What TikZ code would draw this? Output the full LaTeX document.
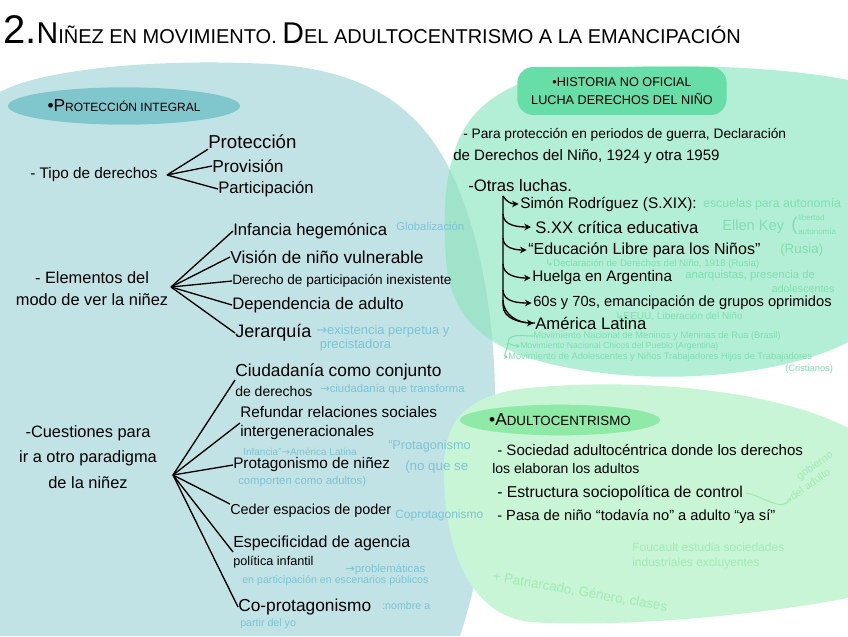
\documentclass[tikz,border=0pt]{standalone}
\usepackage{fontspec}
\setmainfont{Liberation Sans}
\newfontfamily\dejavu{DejaVu Sans}
\usetikzlibrary{arrows.meta,shapes.geometric}
\definecolor{bluebg}{HTML}{C2E3E6}
\definecolor{tealhead}{HTML}{80C6CD}
\definecolor{mintbg}{HTML}{B3EFD6}
\definecolor{overlapbg}{HTML}{9FE3CA}
\definecolor{minthead}{HTML}{67DDA8}
\definecolor{lgreen}{HTML}{C8F5D5}
\definecolor{greenhead}{HTML}{8EEAA6}
\definecolor{annblue}{HTML}{7BC4D3}
\definecolor{anngreen}{HTML}{7EDFB0}
\definecolor{anngreenb}{HTML}{A0EAB4}
\newcommand{\fs}[2]{{\fontsize{#1}{#1}\selectfont #2}}
\newcommand{\ar}[1]{{\dejavu #1}}
\begin{document}
\begin{tikzpicture}[x=0.75pt,y=-0.75pt,
  txt/.style={anchor=west,inner sep=0pt,text=black,font=\fontsize{11}{16}\selectfont},
  annb/.style={anchor=west,inner sep=0pt,text=annblue,font=\fontsize{8.5}{10}\selectfont},
  anng/.style={annb,text=anngreen},
  annl/.style={annb,text=anngreenb},
  br/.style={line width=1pt,black},
  arr/.style={br,-{Stealth[length=5pt,width=5pt]}},
  garr/.style={line width=0.8pt,anngreen,-{Stealth[length=3pt,width=3pt]}},
]
\useasboundingbox (0,0) rectangle (848,636);
\fill[white] (0,0) rectangle (848,636);
% blue blob
\fill[bluebg] (0,92) .. controls (40,70) and (150,58) .. (270,64) .. controls (370,70) and (420,110) .. (450,170) .. controls (480,230) and (495,320) .. (495,400) .. controls (495,500) and (478,580) .. (460,636) -- (0,636) -- cycle;
% mint blob
\fill[mintbg] (455,150) .. controls (470,100) and (520,72) .. (600,68) .. controls (700,62) and (800,70) .. (848,80) -- (848,342) .. controls (780,378) and (650,386) .. (560,366) .. controls (490,352) and (450,320) .. (446,260) .. controls (443,210) and (445,180) .. (455,150) -- cycle;
\begin{scope}
\clip (0,92) .. controls (40,70) and (150,58) .. (270,64) .. controls (370,70) and (420,110) .. (450,170) .. controls (480,230) and (495,320) .. (495,400) .. controls (495,500) and (478,580) .. (460,636) -- (0,636) -- cycle;
\fill[overlapbg] (455,150) .. controls (470,100) and (520,72) .. (600,68) .. controls (700,62) and (800,70) .. (848,80) -- (848,342) .. controls (780,378) and (650,386) .. (560,366) .. controls (490,352) and (450,320) .. (446,260) .. controls (443,210) and (445,180) .. (455,150) -- cycle;
\end{scope}
% light green blob
\fill[lgreen] (444,470) .. controls (444,420) and (465,392) .. (540,387) .. controls (650,378) and (780,392) .. (848,428) -- (848,598) .. controls (760,615) and (620,628) .. (530,622) .. controls (470,615) and (444,550) .. (444,470) -- cycle;

% title
\node[anchor=west,inner sep=0pt] (title) at (3,30) {\fs{30}{2.}\fs{22.5}{N}\fs{15}{IÑEZ EN MOVIMIENTO. }\fs{22.5}{D}\fs{15}{EL ADULTOCENTRISMO A LA EMANCIPACIÓN}};

% ===== Protección integral =====
\node[ellipse,fill=tealhead,inner sep=0pt,minimum width=174pt,minimum height=28pt] (h1) at (124,106) {\fs{13}{•P}\fs{9}{ROTECCIÓN INTEGRAL}\hspace{22pt}};

\node[txt,font=\fontsize{11.5}{13}\selectfont] (td) at (30,175) {- Tipo de derechos};
\node[txt,font=\fontsize{14}{16}\selectfont] (p1) at (208,142) {Protección};
\node[txt,font=\fontsize{13}{15}\selectfont] (p2) at (212,166) {Provisión};
\node[txt,font=\fontsize{12.5}{14}\selectfont] (p3) at (218,189) {Participación};
\coordinate (hubA) at (167,175);
\draw[br] (hubA) -- (p1.south west);
\draw[br] (hubA) -- (p2.west);
\draw[br] (hubA) -- (p3.west);

\node[txt,align=center,anchor=center,font=\fontsize{12.3}{16.5}\selectfont] (e0) at (92,289) {- Elementos del\\modo de ver la niñez};
\coordinate (hubB) at (171,287);
\node[txt,font=\fontsize{12.5}{14}\selectfont] (e1) at (233,231) {Infancia hegemónica};
\node[annb] (e1a) at (396,226) {Globalización};
\node[txt,font=\fontsize{13}{15}\selectfont] (e2) at (230,257) {Visión de niño vulnerable};
\node[txt,font=\fontsize{10.2}{12}\selectfont] (e3) at (232,281) {Derecho de participación inexistente};
\node[txt,font=\fontsize{12.5}{14}\selectfont] (e4) at (232,305) {Dependencia de adulto};
\node[txt,font=\fontsize{13.5}{15}\selectfont] (e5) at (235,333) {Jerarquía};
\node[annb,align=left,font=\fontsize{9.7}{11}\selectfont] (e5a) at (316,338) {\ar{→}existencia perpetua y\\\ precistadora};
\foreach \n in {e1,e2,e3,e4,e5} \draw[br] (hubB) -- (\n.west);

\node[txt,align=center,anchor=center,font=\fontsize{12.3}{19}\selectfont] (c0) at (88,457) {-Cuestiones para\\ir a otro paradigma\\de la niñez};
\coordinate (hubC) at (173,475);
\node[txt,align=left,font=\fontsize{13}{15}\selectfont] (c1) at (235,380) {Ciudadanía como conjunto\\{\fontsize{10.5}{10}\selectfont de derechos}};
\node[annb] (c1a) at (320,389) {\ar{→}ciudadanía que transforma};
\node[txt,align=left,font=\fontsize{11.5}{14}\selectfont] (c2) at (240,423) {Refundar relaciones sociales\\intergeneracionales};
\node[annb,font=\fontsize{9.5}{11}\selectfont] (c2a) at (388,446) {“Protagonismo};
\node[annb,font=\fontsize{7.5}{9}\selectfont] (c2b) at (243,452) {Infancia”\ar{→}América Latina};
\node[txt,font=\fontsize{11.5}{14}\selectfont] (c3) at (233,465) {Protagonismo de niñez};
\node[annb,font=\fontsize{10}{12}\selectfont] (c3a) at (405,467) {(no que se};
\node[annb,font=\fontsize{8.5}{10}\selectfont] (c3b) at (238,482) {comporten como adultos)};
\node[txt,font=\fontsize{10.8}{12}\selectfont] (c4) at (230,511) {Ceder espacios de poder};
\node[annb,font=\fontsize{9}{11}\selectfont] (c4a) at (395,515) {Coprotagonismo};
\node[txt,align=left,font=\fontsize{12}{14}\selectfont] (c5) at (233,552) {Especificidad de agencia\\{\fontsize{9.5}{10}\selectfont política infantil}};
\node[annb,font=\fontsize{8.5}{10}\selectfont] (c5a) at (345,569) {\ar{→}problemáticas};
\node[annb,font=\fontsize{8}{10}\selectfont] (c5b) at (242,581) {en participación en escenarios públicos};
\node[txt,font=\fontsize{13}{15}\selectfont] (c6) at (238,607) {Co-protagonismo};
\node[annb,font=\fontsize{8}{10}\selectfont] (c6a) at (382,606) {:nombre a};
\node[annb,font=\fontsize{8}{10}\selectfont] (c6b) at (240,624) {partir del yo};
\draw[br] (hubC) -- (c1.west);
\draw[br] (hubC) -- (c2.west);
\draw[br] (hubC) -- (c3.west);
\draw[br] (hubC) -- (c4.north west);
\draw[br] (hubC) -- (c5.west);
\draw[br] (hubC) -- (c6.west);

% ===== Historia no oficial =====
\node[rectangle,rounded corners=12pt,fill=minthead,inner sep=0pt,minimum width=157pt,minimum height=36pt,align=center,font=\fontsize{9.5}{13.5}\selectfont] (h2) at (622,91) {•HISTORIA NO OFICIAL\\LUCHA DERECHOS DEL NIÑO};
\node[txt,font=\fontsize{10.3}{12}\selectfont] (r1) at (463,135) {- Para protección en periodos de guerra, Declaración};
\node[txt,font=\fontsize{11.3}{13}\selectfont] (r2) at (453,157) {de Derechos del Niño, 1924 y otra 1959};
\node[txt,font=\fontsize{12.5}{14}\selectfont] (r3) at (468,186) {-Otras luchas.};

\node[txt,font=\fontsize{11.5}{14}\selectfont] (i1) at (520,204) {Simón Rodríguez (S.XIX):};
\node[anng,font=\fontsize{9.2}{10}\selectfont] (i1a) at (703,204) {escuelas para autonomía};
\node[txt,font=\fontsize{12.5}{14}\selectfont] (i2) at (535,227) {S.XX crítica educativa};
\node[anng,font=\fontsize{11}{12}\selectfont] (i2a) at (722,227) {Ellen Key};
\node[anng,font=\fontsize{14}{14}\selectfont] (i2p) at (791,226) {(};
\node[anng,font=\fontsize{6}{6}\selectfont] (i2b) at (798,218) {libertad};
\node[anng,font=\fontsize{6}{6}\selectfont] (i2c) at (798,232) {autonomía};
\node[txt,font=\fontsize{12}{14}\selectfont] (i3) at (528,250) {“Educación Libre para los Niños”};
\node[anng,font=\fontsize{10}{12}\selectfont] (i3a) at (780,250) {(Rusia)};
\node[anng,font=\fontsize{7.2}{9}\selectfont] (i3b) at (545,264) {\ar{↳}Declaración de Derechos del Niño, 1918 (Rusia)};
\node[txt,font=\fontsize{11.5}{14}\selectfont] (i4) at (532,278) {Huelga en Argentina};
\node[anng] (i4a) at (685,276) {anarquistas, presencia de};
\node[anng,anchor=east,font=\fontsize{8}{9}\selectfont] (i4b) at (835,289) {adolescentes};
\node[txt,font=\fontsize{11}{13}\selectfont] (i5) at (533,303) {60s y 70s, emancipación de grupos oprimidos};
\node[anng,font=\fontsize{7.5}{9}\selectfont] (i5a) at (615,316) {\ar{↳}EEUU, Liberación del Niño};
\node[txt,font=\fontsize{12.5}{14}\selectfont] (i6) at (535,323) {América Latina};
\node[anng,font=\fontsize{7}{8}\selectfont] (l1) at (533,336) {Movimiento Nacional de Meninos y Meninas de Rua (Brasil)};
\node[anng,font=\fontsize{6.5}{8}\selectfont] (l2) at (520,346) {Movimiento Nacional Chicos del Pueblo (Argentina)};
\node[anng,font=\fontsize{7}{8}\selectfont] (l3) at (508,357) {Movimiento de Adolescentes y Niños Trabajadores Hijos de Trabajadores};
\node[anng,font=\fontsize{7}{8}\selectfont] (l4) at (785,369) {(Cristianos)};

\coordinate (v0) at (503,196);
\coordinate (v2) at (503,214);
\coordinate (v3) at (503,238);
\coordinate (v4) at (503,264);
\coordinate (v5) at (503,290);
\draw[br] (v0) -- (503,305) to[out=-90,in=180] (i6.west);
\draw[arr] (v0) to[out=-60,in=180] ([xshift=-1pt]i1.west);
\draw[arr] (v2) to[out=-90,in=180] ([xshift=-3pt]i2.west);
\draw[arr] (v3) to[out=-90,in=180] ([xshift=-1pt]i3.west);
\draw[arr] (v4) to[out=-90,in=180] ([xshift=-1pt]i4.west);
\draw[arr] (v5) to[out=-90,in=180] ([xshift=-1pt]i5.west);
\draw[arr] (503,300) to[out=-90,in=180] ([xshift=-1pt]i6.west);
\coordinate (gA) at (508,343);
\draw[garr] (l1.west) to[out=180,in=90] (gA) to[out=-90,in=180] (l3.west);
\draw[garr] (gA) to[out=-30,in=180] (l2.west);

% ===== Adultocentrismo =====
\node[ellipse,fill=greenhead,inner sep=0pt,minimum width=146pt,minimum height=23pt] (h3) at (560,420) {\fs{13}{•A}\fs{10}{DULTOCENTRISMO}};
\node[txt,font=\fontsize{11.3}{13}\selectfont] (a1) at (497,450) {- Sociedad adultocéntrica donde los derechos};
\node[txt,font=\fontsize{10.5}{12}\selectfont] (a2) at (492,468) {los elaboran los adultos};
\node[txt,font=\fontsize{11.8}{13}\selectfont] (a3) at (497,493) {- Estructura sociopolítica de control};
\node[annl,rotate=35,anchor=center,font=\fontsize{8}{10}\selectfont] (a3a) at (815,466) {gobierno};
\node[annl,rotate=35,anchor=center,font=\fontsize{8}{10}\selectfont] (a3b) at (810,484) {del adulto};
\draw[line width=0.8pt,anngreenb,-{Stealth[length=3pt,width=3pt]}] ([xshift=2pt]a3.east) to[out=-10,in=-120] (a3b.west);
\node[txt,font=\fontsize{11}{12}\selectfont] (a4) at (497,517) {- Pasa de niño “todavía no” a adulto “ya sí”};
\node[annl,font=\fontsize{9}{12}\selectfont] (f1) at (632,547) {Foucault estudia sociedades};
\node[annl,font=\fontsize{9}{12}\selectfont] (f2) at (632,563) {industriales excluyentes};
\node[annl,rotate=-10,anchor=center,font=\fontsize{10}{12}\selectfont] (pt) at (580,592) {+ Patriarcado, Género, clases};
\end{tikzpicture}
\end{document}
